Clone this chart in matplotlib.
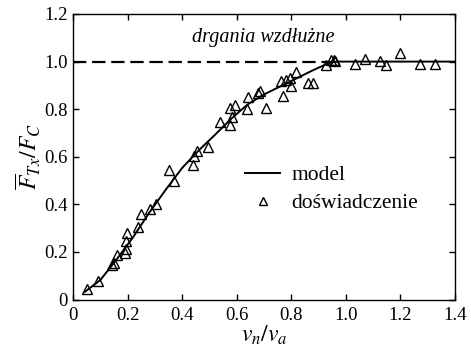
import matplotlib
matplotlib.use("Agg")
import matplotlib.pyplot as plt
from matplotlib.ticker import FuncFormatter, MultipleLocator

# dane pomiarowe
exp_x = [0.052, 0.090, 0.144, 0.151, 0.160, 0.190, 0.194, 0.194, 0.199, 0.237,
         0.250, 0.284, 0.304, 0.352, 0.369, 0.440, 0.444, 0.456, 0.494, 0.538,
         0.576, 0.584, 0.575, 0.594, 0.638, 0.640, 0.678, 0.684, 0.706, 0.770,
         0.764, 0.781, 0.795, 0.799, 0.816, 0.860, 0.878, 0.926, 0.946, 0.955,
         0.960, 1.033, 1.069, 1.124, 1.148, 1.197, 1.270, 1.326]
exp_y = [0.043, 0.080, 0.145, 0.155, 0.187, 0.197, 0.212, 0.246, 0.278, 0.306,
         0.359, 0.380, 0.400, 0.545, 0.499, 0.565, 0.603, 0.624, 0.642, 0.746,
         0.734, 0.766, 0.803, 0.818, 0.800, 0.852, 0.870, 0.875, 0.807, 0.854,
         0.917, 0.924, 0.933, 0.897, 0.955, 0.910, 0.910, 0.985, 1.005, 1.007,
         1.003, 0.992, 1.009, 1.002, 0.985, 1.037, 0.989, 0.988]

# model
mod_x = [0.044, 0.10, 0.16, 0.22, 0.28, 0.34, 0.40, 0.46, 0.52, 0.58,
         0.64, 0.70, 0.76, 0.82, 0.88, 0.94, 0.97, 1.40]
mod_y = [0.033, 0.082, 0.169, 0.262, 0.366, 0.462, 0.553, 0.626, 0.692, 0.760,
         0.820, 0.862, 0.896, 0.930, 0.964, 0.995, 1.000, 1.000]

# linia odniesienia
ref_x = [0.0, 0.95]
ref_y = [1.0, 1.0]

plt.rcParams["font.family"] = ["Liberation Serif", "DejaVu Serif"]
plt.rcParams["mathtext.fontset"] = "stix"

fig = plt.figure(figsize=(4.71, 3.5), dpi=100)
ax = fig.add_axes([0.155, 0.144, 0.811, 0.816])

ax.plot(ref_x, ref_y, color="black", lw=1.6, dashes=(6, 2.6))
ax.plot(mod_x, mod_y, "-", color="black", lw=1.4, label="model")
ax.plot(exp_x, exp_y, "^", ms=7, mfc="none", mec="black", mew=1.0,
        ls="none", label="doświadczenie")

ax.set_xlim(0, 1.4)
ax.set_ylim(0, 1.2)
ax.xaxis.set_major_locator(MultipleLocator(0.2))
ax.yaxis.set_major_locator(MultipleLocator(0.2))
fmt = FuncFormatter(lambda v, p: "0" if abs(v) < 1e-9 else "%.1f" % v)
ax.xaxis.set_major_formatter(fmt)
ax.yaxis.set_major_formatter(fmt)
ax.tick_params(direction="in", top=True, right=True, length=4, width=1,
               labelsize=13.5)
ax.tick_params(axis="x", pad=5)
ax.tick_params(axis="y", pad=4)
for s in ax.spines.values():
    s.set_linewidth(1.0)

ax.set_xlabel(r"$v_n/v_a$", fontsize=17, labelpad=0)
ax.set_ylabel(r"$\overline{F}_{Tx}/F_C$", fontsize=17, labelpad=1)

ax.text(0.696, 1.103, "drgania wzdłużne", style="italic", fontsize=14.5,
        ha="center", va="center")

ax.legend(loc="upper left", bbox_to_anchor=(0.45, 0.47), frameon=False,
          fontsize=15.5, handlelength=1.65, handletextpad=0.5, labelspacing=0.35,
          borderpad=0, borderaxespad=0, markerscale=0.8)

fig.savefig("out.png", dpi=100)
